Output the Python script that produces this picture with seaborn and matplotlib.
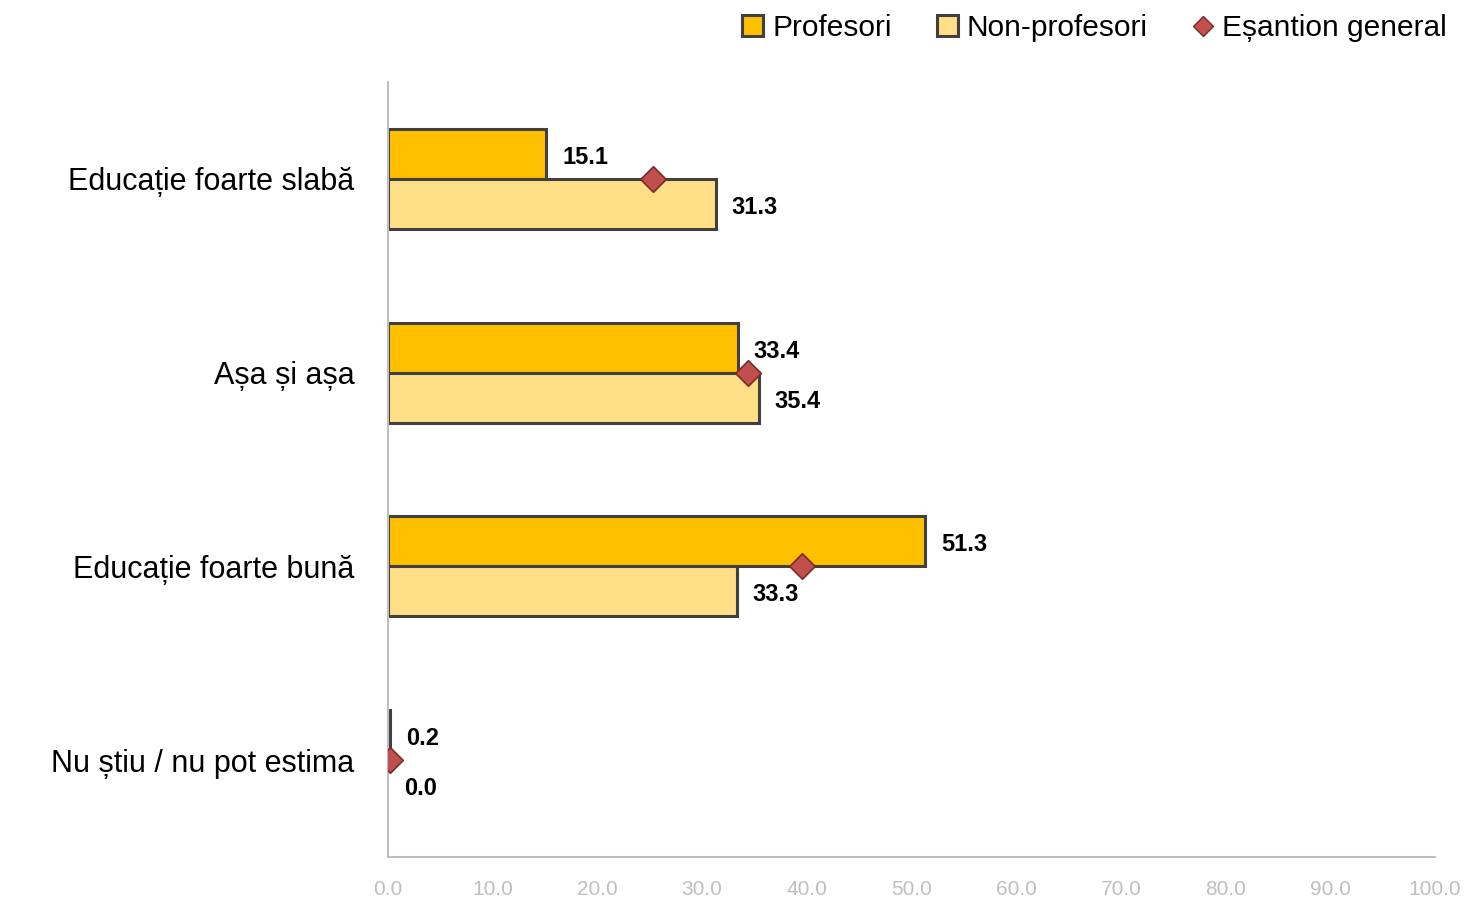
import matplotlib
matplotlib.use("Agg")
import matplotlib.pyplot as plt
import seaborn as sns
import pandas as pd
from matplotlib.patches import Patch
from matplotlib.lines import Line2D

categories = ["Educație foarte slabă", "Așa și așa", "Educație foarte bună", "Nu știu / nu pot estima"]
profesori = [15.1, 33.4, 51.3, 0.2]
non_profesori = [31.3, 35.4, 33.3, 0.0]
esantion_general = [25.3, 34.4, 39.5, 0.2]
series_names = ["Profesori", "Non-profesori"]
general_name = "Eșantion general"
tick_values = list(range(0, 101, 10))

sns.set_theme(style="white")
plt.rcParams['font.family'] = ['Liberation Sans', 'DejaVu Sans']

df = pd.DataFrame({
    "cat": categories * 2,
    "val": profesori + non_profesori,
    "serie": [series_names[0]] * len(categories) + [series_names[1]] * len(categories),
})

colors = {"Profesori": "#FFC000", "Non-profesori": "#FFDF85"}
edge = "#404040"

fig = plt.figure(figsize=(14.65, 8.99), dpi=100)
ax = fig.add_axes([388/1465, 1-857/899, (1435-388)/1465, (857-82)/899])

sns.barplot(data=df, x="val", y="cat", hue="serie", order=categories,
            hue_order=series_names, palette=colors, saturation=1, width=0.515, dodge=True,
            edgecolor=edge, linewidth=2.2, ax=ax, legend=False, orient="h")

for p in ax.patches:
    if p.get_width() == 0:
        p.set_linewidth(0)

for cont in ax.containers:
    texts = ax.bar_label(cont, fmt="%.1f", padding=11.5, fontsize=17, fontweight="bold", color="black")
    for t in texts:
        t.xyann = (11.5, -2.5)

sns.stripplot(x=esantion_general, y=categories, order=categories, jitter=False,
              marker="D", size=13, color="#C0504D", edgecolor="#7A2B29", linewidth=1.2,
              ax=ax, zorder=5, orient="h")

ax.set_xlim(0, 100)
ax.set_ylim(3.5, -0.5)
ax.set_xticks(tick_values)
ax.set_xticklabels([f"{v:.1f}" for v in tick_values], color="#BFBFBF", fontsize=15)
ax.tick_params(axis="x", length=0, pad=16.5)
ax.tick_params(axis="y", length=0, pad=24, labelsize=22, labelcolor="black")
ax.set_xlabel("")
ax.set_ylabel("")
for s in ["top", "right"]:
    ax.spines[s].set_visible(False)
for s in ["left", "bottom"]:
    ax.spines[s].set_color("#BFBFBF")
    ax.spines[s].set_linewidth(1.5)
ax.grid(False)

handles = [
    Patch(facecolor=colors["Profesori"], edgecolor=edge, linewidth=2.2, label="Profesori"),
    Patch(facecolor=colors["Non-profesori"], edgecolor=edge, linewidth=2.2, label="Non-profesori"),
    Line2D([], [], marker="D", linestyle="none", markersize=10, markerfacecolor="#C0504D",
           markeredgecolor="#7A2B29", label=general_name),
]
fig.legend(handles=handles, loc="upper right", bbox_to_anchor=(1.006, 1.014), ncol=3,
           frameon=False, fontsize=21.5, handlelength=0.7, handleheight=0.7,
           handletextpad=0.3, columnspacing=1.5, labelcolor="black")

fig.savefig("out.png", dpi=100)
